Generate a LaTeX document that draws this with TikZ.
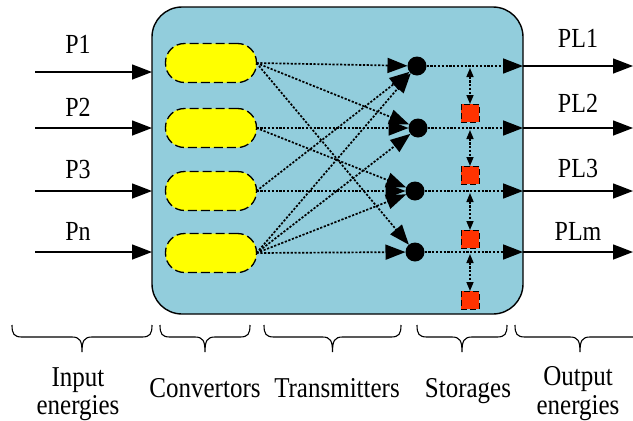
\documentclass[tikz,border=0pt]{standalone}
\usepackage{fontspec}
\setmainfont{Liberation Serif}
\newfontfamily\tnr{LiberationSerif-Regular.ttf}
\usetikzlibrary{arrows.meta}
\definecolor{boxblue}{RGB}{146,205,220}
\definecolor{convy}{RGB}{255,255,0}
\definecolor{stred}{RGB}{255,51,0}
\newcommand{\mybrace}[2]{%
  \pgfmathsetmacro{\bmid}{(#1+#2)/2}%
  \draw[brc] (#1,325) .. controls (#1,334) and (#1+2,337) .. (#1+10,337)
    -- (\bmid-10,337) .. controls (\bmid-2,337) and (\bmid,341) .. (\bmid,352)
    .. controls (\bmid,341) and (\bmid+2,337) .. (\bmid+10,337)
    -- (#2-10,337) .. controls (#2-2,337) and (#2,334) .. (#2,325);}
\begin{document}
\begin{tikzpicture}[x=1pt,y=-1pt,
  every node/.style={inner sep=0pt, outer sep=0pt},
  lbl/.style={font=\tnr\fontsize{24}{28}\selectfont, anchor=base},
  blbl/.style={font=\tnr\fontsize{25}{29}\selectfont, anchor=base},
  bigarrow/.style={-{Triangle[length=20pt,width=15pt]}},
  solidarrow/.style={bigarrow, line width=1.4pt},
  dotarrow/.style={bigarrow, line width=1.7pt, dash pattern=on 2.2pt off 1.6pt},
  conv/.style={draw, fill=convy, line width=1.3pt, dash pattern=on 9pt off 4pt, rounded corners=19pt, minimum width=91pt, minimum height=39pt},
  tdot/.style={circle, fill=black, minimum size=19pt},
  stor/.style={draw, fill=stred, line width=1pt, dash pattern=on 6pt off 3pt, minimum width=18pt, minimum height=18pt},
  stlink/.style={{Triangle[length=9pt,width=7pt]}-{Triangle[length=9pt,width=7pt]}, line width=1.5pt, dash pattern=on 2.2pt off 1.6pt},
  brc/.style={line width=1.1pt}
]
\useasboundingbox (0,0) rectangle (633,421);

% main box
\node[draw, fill=boxblue, rounded corners=30pt, line width=1.4pt,
      minimum width=371pt, minimum height=307pt] (box) at (337.5,160.5) {};

% converters
\node[conv] (c1) at (211,63) {};
\node[conv] (c2) at (211,128) {};
\node[conv] (c3) at (211,191) {};
\node[conv] (c4) at (211,253) {};

% transmitter dots
\node[tdot] (t1) at (417,66) {};
\node[tdot] (t2) at (418,128) {};
\node[tdot] (t3) at (415,191) {};
\node[tdot] (t4) at (415,252) {};

% storages
\node[stor] (s1) at (470,113) {};
\node[stor] (s2) at (470,175) {};
\node[stor] (s3) at (470,239) {};
\node[stor] (s4) at (470,300) {};

% input arrows
\coordinate (in1) at (35,72);
\coordinate (in2) at (35,128);
\coordinate (in3) at (35,191);
\coordinate (in4) at (35,252);
\foreach \i in {1,...,4}{
  \draw[solidarrow] (in\i) -- (in\i -| box.west);
}
\node[lbl] (p1) at (78,53) {\scalebox{1}[1.15]{P1}};
\node[lbl] (p2) at (78,116) {\scalebox{1}[1.15]{P2}};
\node[lbl] (p3) at (78,178) {\scalebox{1}[1.15]{P3}};
\node[lbl] (pn) at (78,240) {\scalebox{1}[1.15]{Pn}};

% converter -> transmitter links
\draw[dotarrow] (c1.east) -- (t1);
\draw[dotarrow] (c1.east) -- (t2);
\draw[dotarrow] (c1.east) -- (t4);
\draw[dotarrow] (c2.east) -- (t2);
\draw[dotarrow] (c2.east) -- (t3);
\draw[dotarrow] (c3.east) -- (t3);
\draw[dotarrow] (c3.east) -- (t1);
\draw[dotarrow] (c4.east) -- (t4);
\draw[dotarrow] (c4.east) -- (t1);
\draw[dotarrow] (c4.east) -- (t2);
\draw[dotarrow] (c4.east) -- (t3);

% outputs
\coordinate (o1) at (633,66);
\coordinate (o2) at (633,128);
\coordinate (o3) at (633,191);
\coordinate (o4) at (633,252);
\foreach \i in {1,...,4}{
  \draw[dotarrow] (t\i) -- (t\i -| box.east);
  \draw[solidarrow] (o\i -| box.east) -- (o\i);
}
\node[lbl] (pl1) at (578,47) {\scalebox{1}[1.15]{PL1}};
\node[lbl] (pl2) at (578,112) {\scalebox{1}[1.15]{PL2}};
\node[lbl] (pl3) at (578,177) {\scalebox{1}[1.15]{PL3}};
\node[lbl] (plm) at (578,240) {\scalebox{1}[1.15]{PLm}};

% storage links
\coordinate (j1) at (470,68);
\coordinate (j2) at (470,130);
\coordinate (j3) at (470,193);
\coordinate (j4) at (470,254);
\foreach \i in {1,...,4}{
  \draw[stlink] (j\i) -- (s\i.north);
}

% braces
\mybrace{12}{152}
\mybrace{160}{250}
\mybrace{264}{401}
\mybrace{417}{507}
\mybrace{515}{645}

% bottom labels
\node[blbl] (lin1) at (78,386) {\scalebox{1}[1.15]{Input}};
\node[blbl] (lin2) at (78,414) {\scalebox{1}[1.15]{energies}};
\node[blbl] (lconv) at (205,397) {\scalebox{1}[1.15]{Convertors}};
\node[blbl] (ltr) at (337,397) {\scalebox{1}[1.15]{Transmitters}};
\node[blbl] (lst) at (468,397) {\scalebox{1}[1.15]{Storages}};
\node[blbl] (lout1) at (578,385) {\scalebox{1}[1.15]{Output}};
\node[blbl] (lout2) at (578,414) {\scalebox{1}[1.15]{energies}};
\end{tikzpicture}
\end{document}
